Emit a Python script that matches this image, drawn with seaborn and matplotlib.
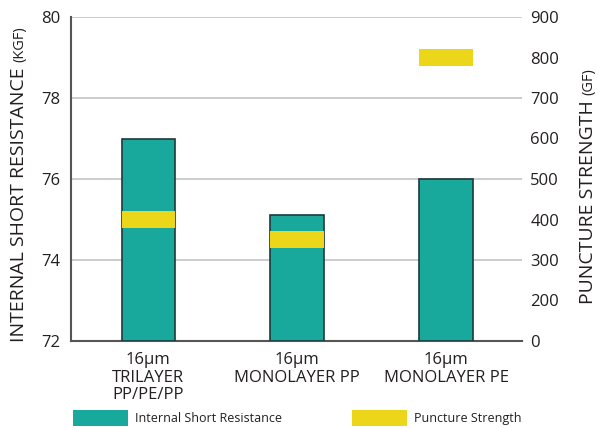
import matplotlib
matplotlib.use("Agg")
import matplotlib.pyplot as plt
import seaborn as sns
import pandas as pd
from matplotlib.patches import Patch

# Separator data
categories = ["16µm\nTRILAYER\nPP/PE/PP", "16µm\nMONOLAYER PP", "16µm\nMONOLAYER PE"]
short_resistance = [77.0, 75.1, 76.0]      # kgf
puncture_strength = [400, 350, 800]        # gf

left_ticks = [72, 74, 76, 78, 80]
right_ticks = [100, 200, 300, 400, 500, 600, 700, 800, 900]
right_tick_labels = ["0", "200", "300", "400", "500", "600", "700", "800", "900"]

TEAL = "#18a89c"
YELLOW = "#ebd61a"
TEXT = "#231f20"
FONT = "Open Sans"

sns.set_theme(style="white")
plt.rcParams["font.family"] = [FONT, "DejaVu Sans"]

fig = plt.figure(figsize=(5.98, 4.29), dpi=100)
ax = fig.add_axes([71 / 598, 1 - 341 / 429, (522 - 71) / 598, (341 - 17) / 429])

df = pd.DataFrame({"category": categories, "resistance": short_resistance})
base = left_ticks[0]
df["height"] = df["resistance"] - base
sns.barplot(data=df, x="category", y="height", bottom=base, color=TEAL,
            saturation=1, width=0.36, edgecolor="#1d3b3a", linewidth=1.2, ax=ax, zorder=3)

ax.set_xlim(-0.52, 2.51)
ax.set_ylim(72, 80)
ax.set_yticks(left_ticks)
ax.yaxis.grid(True, color="#c4c4c4", linewidth=1.2, zorder=0)
ax.set_axisbelow(True)
for side in ("top", "right"):
    ax.spines[side].set_visible(False)
for side in ("left", "bottom"):
    ax.spines[side].set_color("#555555")
    ax.spines[side].set_linewidth(1.5)
ax.tick_params(axis="y", labelsize=12, colors=TEXT, length=0, pad=8)
ax.tick_params(axis="x", labelsize=12, colors=TEXT, length=0, pad=8)
for lbl in ax.get_xticklabels():
    lbl.set_linespacing(1.12)
ax.set_xlabel("")
ax.set_ylabel("")

# Puncture strength on a secondary axis, drawn as short bands
ax2 = ax.twinx()
ax2.set_ylim(100, 900)
ax2.set_yticks(right_ticks)
ax2.set_yticklabels(right_tick_labels)
for side in ax2.spines:
    ax2.spines[side].set_visible(False)
ax2.tick_params(axis="y", labelsize=12, colors=TEXT, length=0, pad=6)
band = 42
ax2.bar(range(len(categories)), [band] * len(categories),
        bottom=[v - band / 2 for v in puncture_strength],
        width=0.36, color=YELLOW, linewidth=0, zorder=4)
ax2.set_xlim(-0.52, 2.51)

fig.canvas.draw()
renderer = fig.canvas.get_renderer()


def two_part_label(x, y0, main, small, size_main, size_small):
    t1 = fig.text(x, y0, main, rotation=90, fontsize=size_main, color=TEXT,
                  ha="center", va="bottom")
    bb = t1.get_window_extent(renderer)
    y1 = (bb.y1 + 5) / fig.bbox.height
    fig.text(x + 1 / 598, y1, small, rotation=90, fontsize=size_small, color=TEXT,
             ha="center", va="bottom")


two_part_label(19 / 598, 1 - 342 / 429, "INTERNAL SHORT RESISTANCE", "(KGF)", 14, 10.5)
two_part_label(588 / 598, 1 - 304 / 429, "PUNCTURE STRENGTH", "(GF)", 14, 10.5)

# legend row
handles = [Patch(facecolor=TEAL, edgecolor="none"), Patch(facecolor=YELLOW, edgecolor="none")]
fig.legend([handles[0]], ["Internal Short Resistance"], loc="center left",
           bbox_to_anchor=(62 / 598, 1 - 418 / 429), frameon=False, fontsize=9,
           handlelength=4.4, handleheight=1.5, handletextpad=0.55, labelcolor=TEXT)
fig.legend([handles[1]], ["Puncture Strength"], loc="center left",
           bbox_to_anchor=(341 / 598, 1 - 418 / 429), frameon=False, fontsize=9,
           handlelength=4.4, handleheight=1.5, handletextpad=0.55, labelcolor=TEXT)

fig.savefig("out.png", dpi=100)
